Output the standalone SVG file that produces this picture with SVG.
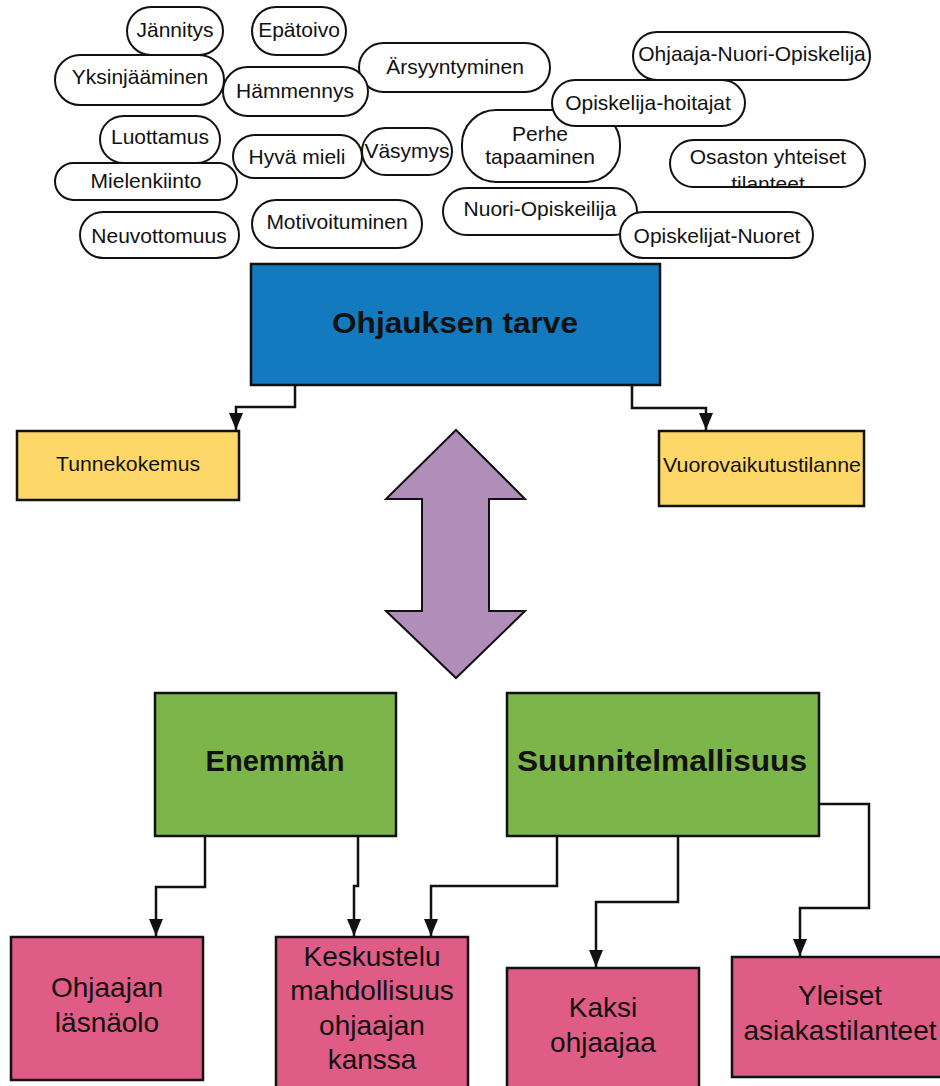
<svg xmlns="http://www.w3.org/2000/svg" width="940" height="1086" viewBox="0 0 940 1086">
<style>
.pill{fill:#fff;stroke:#111;stroke-width:2}
.pt{font-family:"Liberation Sans",Arial,sans-serif;font-size:21px;fill:#111;text-anchor:middle}
.box{stroke:#111;stroke-width:2.5}
.bt{font-family:"Liberation Sans",Arial,sans-serif;fill:#111;text-anchor:middle}
.big{font-size:30px;font-weight:bold}
.mid{font-size:28px}
.sm{font-size:21px}
.con{fill:none;stroke:#111;stroke-width:2.5}
</style>
<defs>
<marker id="ah" markerUnits="userSpaceOnUse" markerWidth="17" markerHeight="14" refX="17" refY="7" orient="auto">
<path d="M0,0 L17,7 L0,14 z" fill="#111"/>
</marker>
<clipPath id="clipOs"><rect x="670" y="140" width="195" height="47" rx="23.5" ry="23.5"/></clipPath>
</defs>
<rect width="940" height="1086" fill="#fff"/>

<g id="pills">
<g id="n-jannitys"><rect class="pill" x="127" y="7" width="96" height="48" rx="24"/><text class="pt" x="175" y="37">Jännitys</text></g>
<g id="n-epatoivo"><rect class="pill" x="252" y="7" width="94" height="48" rx="24"/><text class="pt" x="299" y="37">Epätoivo</text></g>
<g id="n-yksin"><rect class="pill" x="55" y="55" width="169" height="50" rx="25"/><text class="pt" x="140" y="84">Yksinjääminen</text></g>
<g id="n-arsy"><rect class="pill" x="359" y="43" width="191" height="49" rx="24.5"/><text class="pt" x="455" y="74">Ärsyyntyminen</text></g>
<g id="n-hammennys"><rect class="pill" x="223" y="67" width="145" height="49" rx="24.5"/><text class="pt" x="295" y="98">Hämmennys</text></g>
<g id="n-luottamus"><rect class="pill" x="100" y="116" width="120" height="47" rx="23.5"/><text class="pt" x="160" y="144">Luottamus</text></g>
<g id="n-hyva"><rect class="pill" x="233" y="135" width="129" height="43" rx="21.5"/><text class="pt" x="297" y="164">Hyvä mieli</text></g>
<g id="n-vasymys"><rect class="pill" x="362" y="128" width="90" height="47" rx="23.5"/><text class="pt" x="407" y="158">Väsymys</text></g>
<g id="n-mielenkiinto"><rect class="pill" x="55" y="163" width="182" height="37" rx="18.5"/><text class="pt" x="146" y="188">Mielenkiinto</text></g>
<g id="n-neuvottomuus"><rect class="pill" x="80" y="212" width="159" height="46" rx="23"/><text class="pt" x="159" y="243">Neuvottomuus</text></g>
<g id="n-motivoituminen"><rect class="pill" x="252" y="200" width="170" height="48" rx="24"/><text class="pt" x="337" y="229">Motivoituminen</text></g>
<g id="n-ohjaaja-nuori"><rect class="pill" x="633" y="32" width="237" height="48" rx="24"/><text class="pt" x="752" y="61">Ohjaaja-Nuori-Opiskelija</text></g>
<g id="n-perhe"><rect class="pill" x="462" y="110" width="158" height="72" rx="34"/><text class="pt" x="540" y="141">Perhe</text><text class="pt" x="540" y="164">tapaaminen</text></g>
<g id="n-opisk-hoit"><rect class="pill" x="552" y="80" width="193" height="46" rx="23"/><text class="pt" x="648" y="110">Opiskelija-hoitajat</text></g>
<g id="n-osaston"><rect class="pill" x="670" y="140" width="195" height="47" rx="23.5"/><text class="pt" x="768" y="164">Osaston yhteiset</text><text class="pt" x="768" y="191" clip-path="url(#clipOs)">tilanteet</text></g>
<g id="n-nuori-opisk"><rect class="pill" x="443" y="188" width="194" height="47" rx="23.5"/><text class="pt" x="540" y="216">Nuori-Opiskeilija</text></g>
<g id="n-opisk-nuoret"><rect class="pill" x="620" y="212" width="193" height="46" rx="23"/><text class="pt" x="717" y="243">Opiskelijat-Nuoret</text></g>
</g>

<g id="n-ohjauksen"><rect class="box" x="251" y="264" width="409" height="121" fill="#137abf"/><text class="bt big" x="455" y="333" textLength="246" lengthAdjust="spacingAndGlyphs" fill="#0d1a2e">Ohjauksen tarve</text></g>
<g id="n-tunne"><rect class="box" x="17" y="431" width="222" height="69" fill="#fdd868"/><text class="bt sm" x="128" y="471" textLength="144" lengthAdjust="spacingAndGlyphs">Tunnekokemus</text></g>
<g id="n-vuoro"><rect class="box" x="659" y="431" width="205" height="75" fill="#fdd868"/><text class="bt sm" x="762" y="472" textLength="198" lengthAdjust="spacingAndGlyphs">Vuorovaikutustilanne</text></g>

<g id="n-double-arrow"><polygon points="456,430 525,499 489,499 489,611 525,611 456,678 386,611 422,611 422,499 386,499" fill="#b18eb9" stroke="#111" stroke-width="2"/></g>

<g id="n-enemman"><rect class="box" x="155" y="693" width="241" height="143" fill="#7cb54a"/><text class="bt big" x="275" y="771" textLength="139" lengthAdjust="spacingAndGlyphs">Enemmän</text></g>
<g id="n-suunn"><rect class="box" x="507" y="693" width="312" height="143" fill="#7cb54a"/><text class="bt big" x="662" y="771" textLength="290" lengthAdjust="spacingAndGlyphs">Suunnitelmallisuus</text></g>

<g id="n-ohjaajan"><rect class="box" x="11" y="937" width="192" height="143" fill="#df5c86"/><text class="bt mid" x="107" y="997">Ohjaajan</text><text class="bt mid" x="107" y="1032">läsnäolo</text></g>
<g id="n-keskustelu"><rect class="box" x="276" y="937" width="192" height="160" fill="#df5c86"/><text class="bt mid" x="372" y="966">Keskustelu</text><text class="bt mid" x="372" y="1000">mahdollisuus</text><text class="bt mid" x="372" y="1035">ohjaajan</text><text class="bt mid" x="372" y="1069">kanssa</text></g>
<g id="n-kaksi"><rect class="box" x="507" y="968" width="192" height="130" fill="#df5c86"/><text class="bt mid" x="603" y="1017">Kaksi</text><text class="bt mid" x="603" y="1052">ohjaajaa</text></g>
<g id="n-yleiset"><rect class="box" x="732" y="957" width="215" height="120" fill="#df5c86"/><text class="bt mid" x="840" y="1005">Yleiset</text><text class="bt mid" x="840" y="1040">asiakastilanteet</text></g>

<g id="connectors">
<path class="con" d="M295,385 V407 H236 V430" marker-end="url(#ah)"/>
<path class="con" d="M632,385 V408 H706 V430" marker-end="url(#ah)"/>
<path class="con" d="M205,836 V887 H156 V936" marker-end="url(#ah)"/>
<path class="con" d="M358,836 V886 H354 V936" marker-end="url(#ah)"/>
<path class="con" d="M557,836 V886 H431 V936" marker-end="url(#ah)"/>
<path class="con" d="M678,836 V902 H596 V967" marker-end="url(#ah)"/>
<path class="con" d="M819,804 H869 V908 H800 V956" marker-end="url(#ah)"/>
</g>
</svg>
